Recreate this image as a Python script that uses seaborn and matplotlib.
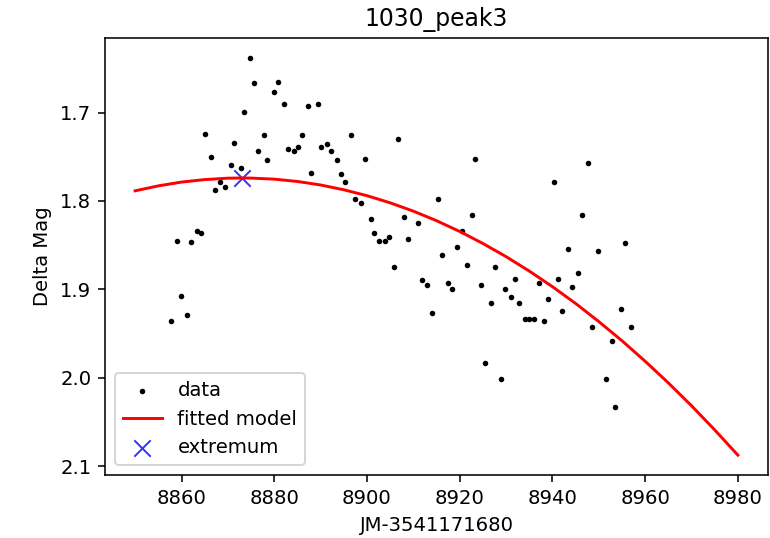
import numpy as np
import pandas as pd
import matplotlib
matplotlib.use("Agg")
import matplotlib.pyplot as plt
import seaborn as sns

# ---- data ----
data_x = [8857.7, 8859.1, 8859.9, 8861.2, 8862.0, 8863.3, 8864.1, 8865.0, 8866.3, 8867.2,
          8868.4, 8869.3, 8870.6, 8871.4, 8872.8, 8873.5, 8874.8, 8875.6, 8876.5, 8877.8,
          8878.5, 8879.9, 8880.8, 8882.1, 8882.9, 8884.2, 8885.1, 8885.9, 8887.2, 8888.0,
          8889.4, 8890.1, 8891.4, 8892.3, 8893.6, 8894.4, 8895.3, 8896.5, 8897.4, 8898.7,
          8899.5, 8900.9, 8901.6, 8902.5, 8903.8, 8904.7, 8905.9, 8906.8, 8908.0, 8908.9,
          8911.1, 8911.9, 8913.0, 8914.0, 8915.3, 8916.1, 8917.4, 8918.3, 8919.5, 8920.4,
          8921.6, 8922.6, 8923.3, 8924.7, 8925.5, 8926.8, 8927.6, 8928.9, 8929.7, 8931.1,
          8931.9, 8932.8, 8934.0, 8935.0, 8936.1, 8937.0, 8938.2, 8939.1, 8940.4, 8941.3,
          8942.1, 8943.4, 8944.3, 8945.5, 8946.4, 8947.7, 8948.6, 8949.8, 8951.5, 8952.8,
          8953.6, 8954.9, 8955.7, 8957.0]
data_y = [1.936, 1.845, 1.907, 1.929, 1.847, 1.834, 1.836, 1.7245, 1.750, 1.788,
          1.779, 1.784, 1.759, 1.734, 1.763, 1.6995, 1.638, 1.666, 1.743, 1.725,
          1.754, 1.677, 1.6656, 1.6905, 1.741, 1.743, 1.7385, 1.725, 1.693, 1.768,
          1.6905, 1.7385, 1.736, 1.743, 1.754, 1.770, 1.779, 1.725, 1.7975, 1.802,
          1.752, 1.8205, 1.836, 1.845, 1.845, 1.841, 1.875, 1.7295, 1.818, 1.843,
          1.8245, 1.890, 1.895, 1.9266, 1.7975, 1.861, 1.8926, 1.900, 1.852, 1.834,
          1.872, 1.816, 1.752, 1.895, 1.9836, 1.915, 1.8745, 2.0018, 1.900, 1.909,
          1.8885, 1.915, 1.934, 1.934, 1.934, 1.8927, 1.936, 1.911, 1.779, 1.8885,
          1.925, 1.8545, 1.8975, 1.8816, 1.816, 1.7567, 1.943, 1.8567, 2.0018, 1.9587,
          2.0335, 1.9224, 1.8476, 1.943]

model_x = [8850, 8855, 8860, 8865, 8870, 8873, 8875, 8880, 8885, 8890, 8895, 8900,
           8905, 8910, 8915, 8920, 8925, 8930, 8935, 8940, 8945, 8950, 8955, 8960,
           8965, 8970, 8975, 8980]
model_y = [1.7885, 1.7829, 1.7786, 1.7758, 1.7742, 1.7740, 1.7741, 1.7753, 1.7779, 1.7819,
           1.7873, 1.7940, 1.8021, 1.8115, 1.8223, 1.8345, 1.8481, 1.8630, 1.8793, 1.8970,
           1.9160, 1.9365, 1.9582, 1.9814, 2.0059, 2.0318, 2.0591, 2.0877]

extremum_x = [8873.0]
extremum_y = [1.774]

title = "1030_peak3"
xlabel = "JM-3541171680"
ylabel = "Delta Mag"
labels = ["data", "fitted model", "extremum"]

# ---- figure ----
DPI = 141
fig = plt.figure(figsize=(770 / DPI, 538 / DPI), dpi=DPI)
ax = fig.add_axes([105 / 770, 1 - 475 / 538, (768 - 105) / 770, (475 - 38) / 538])

df_data = pd.DataFrame({"x": data_x, "y": data_y})
df_model = pd.DataFrame({"x": model_x, "y": model_y})
df_ext = pd.DataFrame({"x": extremum_x, "y": extremum_y})

sns.scatterplot(data=df_data, x="x", y="y", ax=ax, color="black", marker="o",
                s=8, linewidth=0, label=labels[0])
sns.lineplot(data=df_model, x="x", y="y", ax=ax, color="red", linewidth=1.5,
             label=labels[1])
sns.scatterplot(data=df_ext, x="x", y="y", ax=ax, color="blue", marker="x",
                s=70, linewidth=1.0, alpha=0.8, label=labels[2])

ax.set_title(title)
ax.set_xlabel(xlabel)
ax.set_ylabel(ylabel)
ax.set_xticks([8860, 8880, 8900, 8920, 8940, 8960, 8980])
ax.set_yticks([1.7, 1.8, 1.9, 2.0, 2.1])
ax.invert_yaxis()
ax.legend(loc="lower left")

fig.savefig("out.png", dpi=DPI)
